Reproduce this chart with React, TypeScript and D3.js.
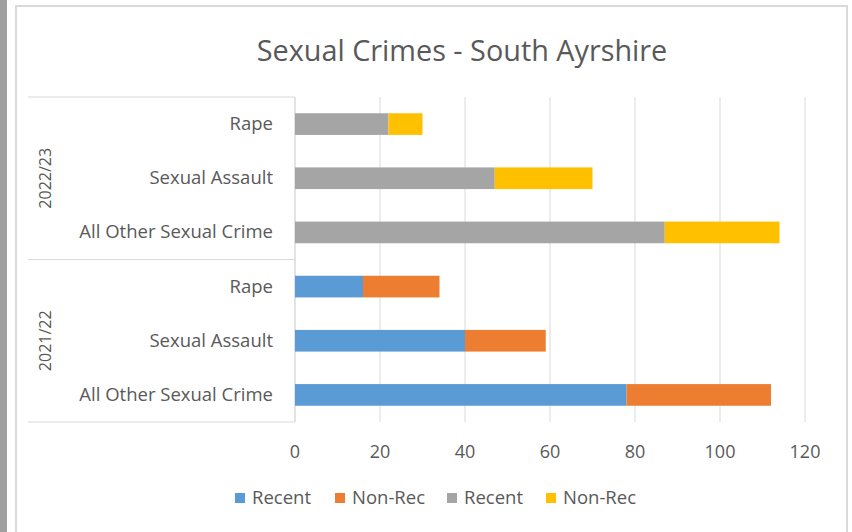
import React from 'react';
import * as d3 from 'd3';

// Sexual crimes in South Ayrshire, by year and crime type
const crimeTypes = ['Rape', 'Sexual Assault', 'All Other Sexual Crime'];
const years = ['2022/23', '2021/22'];
const recent2223 = [22, 47, 87];
const nonRec2223 = [8, 23, 27];
const recent2122 = [16, 40, 78];
const nonRec2122 = [18, 19, 34];
const xTicks = [0, 20, 40, 60, 80, 100, 120];
const legendLabels = ['Recent', 'Non-Rec', 'Recent', 'Non-Rec'];

const FONT = '"Open Sans", sans-serif';
const TEXT = '#595959';
const GRID = '#d9d9d9';
const colours = ['#5b9bd5', '#ed7d31', '#a5a5a5', '#ffc000'];

const App = () => {
    const width = 852;
    const height = 532;
    const plotLeft = 295;
    const plotRight = 805;
    const plotTop = 97;
    const plotBottom = 422;

    const x = d3.scaleLinear().domain([0, 120]).range([plotLeft, plotRight]);

    // one row per year/crime pair, top to bottom
    const rows = years.flatMap((yr, yi) => crimeTypes.map((c, ci) => ({
        key: `${yr}|${c}`,
        year: yr,
        crime: c,
        recent: yi === 0 ? recent2223[ci] : recent2122[ci],
        nonRec: yi === 0 ? nonRec2223[ci] : nonRec2122[ci],
        colRecent: yi === 0 ? colours[2] : colours[0],
        colNonRec: yi === 0 ? colours[3] : colours[1],
    })));

    const y = d3.scaleBand()
        .domain(rows.map(d => d.key))
        .range([plotTop, plotBottom])
        .paddingInner(0.6)
        .paddingOuter(0.3);

    const groupY = d3.scaleBand().domain(years).range([plotTop, plotBottom]);

    const legendX = [235, 335, 447, 546];

    return (
        <svg width={width} height={height} style={{position: 'absolute', left: 0, top: 0, background: '#fff'}}>
            {/* page edge and chart frame */}
            <rect x={0} y={0} width={7} height={height} fill="#a0a0a0"/>
            <rect x={16} y={6} width={831} height={height + 10} fill="#fff" stroke={GRID} strokeWidth={2}/>

            <text x={462} y={61} textAnchor="middle" fontFamily={FONT} fontSize={28.8} fill={TEXT}>
                Sexual Crimes - South Ayrshire
            </text>

            {/* gridlines */}
            {xTicks.map(t => (
                <line key={t} x1={x(t)} x2={x(t)} y1={plotTop} y2={plotBottom} stroke={GRID} strokeWidth={1}/>
            ))}

            {/* multi-level category axis lines */}
            {[plotTop, groupY('2021/22'), plotBottom].map((yy, i) => (
                <line key={i} x1={28} x2={plotLeft} y1={yy} y2={yy} stroke={GRID} strokeWidth={1}/>
            ))}
            <line x1={plotLeft} x2={plotLeft} y1={plotTop} y2={plotBottom} stroke={GRID} strokeWidth={1}/>

            {/* bars */}
            {rows.map(d => (
                <g key={d.key}>
                    <rect x={x(0)} y={y(d.key)} width={x(d.recent) - x(0)} height={y.bandwidth()}
                          fill={d.colRecent}/>
                    <rect x={x(d.recent)} y={y(d.key)} width={x(d.recent + d.nonRec) - x(d.recent)}
                          height={y.bandwidth()} fill={d.colNonRec}/>
                </g>
            ))}

            {/* category labels */}
            {rows.map(d => (
                <text key={d.key} x={273} y={(y(d.key) as number) + y.bandwidth() / 2 + 6}
                      textAnchor="end" fontFamily={FONT} fontSize={18.5} fill={TEXT}>
                    {d.crime}
                </text>
            ))}

            {/* year labels, rotated */}
            {years.map(yr => {
                const cy = (groupY(yr) as number) + groupY.bandwidth() / 2;
                return (
                    <text key={yr} transform={`translate(51, ${cy}) rotate(-90)`} textAnchor="middle"
                          fontFamily={FONT} fontSize={16} fill={TEXT}>
                        {yr}
                    </text>
                );
            })}

            {/* x tick labels */}
            {xTicks.map(t => (
                <text key={t} x={x(t)} y={458} textAnchor="middle" fontFamily={FONT} fontSize={18} fill={TEXT}>
                    {t}
                </text>
            ))}

            {/* legend */}
            {legendLabels.map((l, i) => (
                <g key={i} transform={`translate(${legendX[i]}, 0)`}>
                    <rect x={0} y={493} width={10} height={10} fill={colours[i]}/>
                    <text x={17} y={504} fontFamily={FONT} fontSize={18.5} fill={TEXT}>{l}</text>
                </g>
            ))}
        </svg>
    );
};

export default App;
